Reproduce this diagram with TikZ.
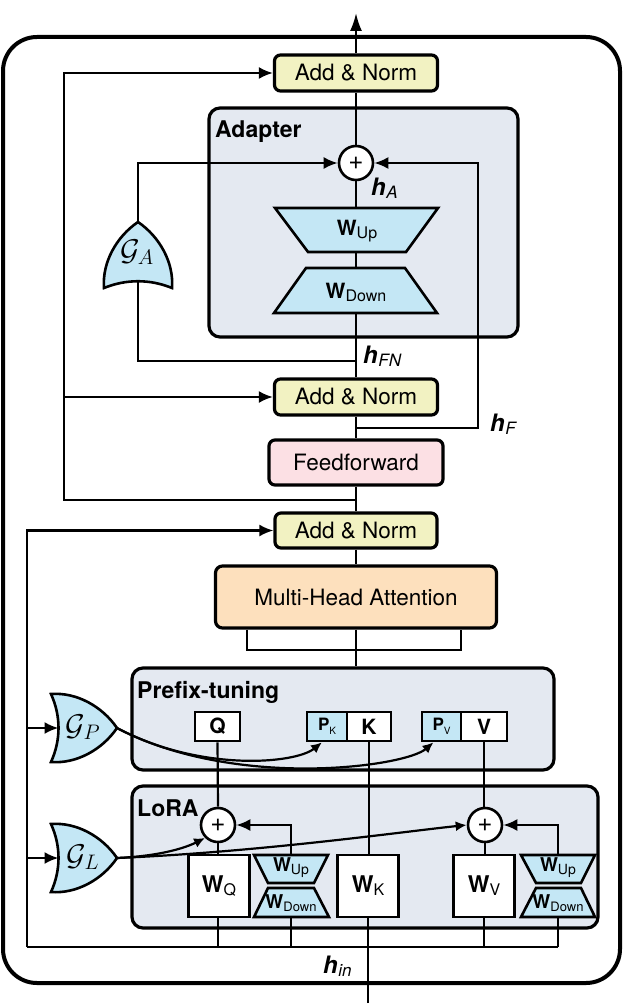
\RequirePackage{fix-cm}
\documentclass[tikz,border=0pt]{standalone}
\usepackage{fontspec}
\setmainfont{TeX Gyre Heros}
\usetikzlibrary{arrows.meta,calc}
\definecolor{annorm}{HTML}{F2F2C2}
\definecolor{ffpink}{HTML}{FCE0E4}
\definecolor{mhaor}{HTML}{FDE0BD}
\definecolor{secgray}{HTML}{E4E9F1}
\definecolor{ltblue}{HTML}{C4E7F5}
\newcommand{\hv}[1]{{\fontsize{24}{24}\selectfont\bfseries\itshape h}\kern0.5pt\raisebox{-0.3em}{\fontsize{17}{17}\selectfont\itshape #1}}
\newcommand{\wv}[3]{{\fontsize{#2}{#2}\selectfont\bfseries W}\raisebox{-0.3em}{\fontsize{#3}{#3}\selectfont #1}}
\newcommand{\pv}[1]{{\fontsize{17}{17}\selectfont\bfseries P}\raisebox{-0.4em}{\fontsize{10}{10}\selectfont #1}}
\begin{document}
\begin{tikzpicture}[x=1pt,y=-1pt,
  conn/.style={line width=2.2pt},
  arr/.style={conn,-{Latex[length=14pt,width=12pt]}},
  arrs/.style={conn,-{Latex[length=11pt,width=10pt]}},
  anbox/.style={draw,line width=3.2pt,rounded corners=6pt,fill=annorm,inner sep=0pt,font=\fontsize{22.5}{26}\selectfont},
  ffbox/.style={draw,line width=3.2pt,rounded corners=6pt,fill=ffpink,inner sep=0pt,font=\fontsize{22.5}{26}\selectfont},
  mhabox/.style={draw,line width=3.2pt,rounded corners=7pt,fill=mhaor,inner sep=0pt,font=\fontsize{22.5}{26}\selectfont},
  secbox/.style={draw,line width=3.2pt,rounded corners=11pt,fill=secgray,inner sep=0pt},
  seclabel/.style={anchor=west,inner sep=0pt,font=\fontsize{23}{26}\selectfont\bfseries},
  qbox/.style={draw,line width=2.6pt,fill=white,inner sep=0pt,minimum height=29pt,font=\fontsize{21}{24}\selectfont\bfseries},
  pbox/.style={draw,line width=2.6pt,fill=ltblue,inner sep=0pt,minimum height=29pt},
  wbox/.style={draw,line width=2.6pt,fill=white,inner sep=0pt,minimum width=61pt,minimum height=62pt},
  trap/.style={draw,line width=2.6pt,fill=ltblue},
  plusnode/.style={circle,draw,line width=2.6pt,fill=white,minimum size=34pt,inner sep=0pt,font=\fontsize{26}{26}\selectfont},
  gatestyle/.style={draw,line width=2.6pt,fill=ltblue},
  hlabel/.style={anchor=west,inner sep=0pt},
  gatelabel/.style={inner sep=0pt,font=\fontsize{30}{30}\selectfont},
  gateR/.pic={
    \draw[gatestyle] (-33,-34) .. controls (-8,-36) and (18,-22) .. (33,0)
      .. controls (18,22) and (-8,36) .. (-33,34)
      .. controls (-23,12) and (-23,-12) .. (-33,-34) -- cycle;
    \coordinate (-tip) at (33,0);
    \coordinate (-back) at (-25.5,0);
  },
  gateU/.pic={
    \draw[gatestyle] (-34,33) .. controls (-36,8) and (-22,-18) .. (0,-33)
      .. controls (22,-18) and (36,8) .. (34,33)
      .. controls (12,24) and (-12,24) .. (-34,33) -- cycle;
    \coordinate (-tip) at (0,-33);
    \coordinate (-bot) at (0,26.5);
  }
]
\useasboundingbox (0,0) rectangle (623,1008);
% outer frame
\node[draw,line width=4pt,rounded corners=34pt,minimum width=617pt,minimum height=946pt,inner sep=0pt] (outer) at (311.5,510) {};
% section boxes
\node[secbox,minimum width=309pt,minimum height=229pt] (adapter) at (363.5,222.5) {};
\node[seclabel] (adlab) at (215,132) {Adapter};
\node[secbox,minimum width=422pt,minimum height=102pt] (prefix) at (343,719) {};
\node[seclabel] (prelab) at (137,692) {Prefix-tuning};
\node[secbox,minimum width=466pt,minimum height=142pt] (lora) at (365,857) {};
\node[seclabel] (loralab) at (137,808) {LoRA};

% main column
\node[anbox,minimum width=163pt,minimum height=36pt] (an3) at (356,73) {Add \& Norm};
\node[plusnode] (pA) at (356,163) {+};
\draw[trap] (275,208) -- (438,208) -- (406,252) -- (308,252) -- cycle;
\node[inner sep=0pt] (wupA) at (357,231) {\wv{Up}{21}{16}};
\coordinate (wupAt) at (356,208);
\coordinate (wupAb) at (356,252);
\draw[trap] (306,268) -- (405,268) -- (437,313) -- (274,313) -- cycle;
\node[inner sep=0pt] (wdnA) at (356,292) {\wv{Down}{21}{16}};
\coordinate (wdnAt) at (356,268);
\coordinate (wdnAb) at (356,313);
\node[anbox,minimum width=163pt,minimum height=36pt] (an2) at (356,397) {Add \& Norm};
\node[ffbox,minimum width=174pt,minimum height=45pt] (ff) at (356,462.5) {Feedforward};
\node[anbox,minimum width=162pt,minimum height=35pt] (an1) at (356,530.5) {Add \& Norm};
\node[mhabox,minimum width=281pt,minimum height=62pt] (mha) at (356,597) {Multi-Head Attention};

% gates
\pic (gA) at (138,255) {gateU};
\node[gatelabel] (gAl) at (137,252) {$\mathcal{G}_A$};
\pic (gP) at (84,728) {gateR};
\node[gatelabel] (gPl) at (83,727) {$\mathcal{G}_P$};
\pic (gL) at (84,858) {gateR};
\node[gatelabel] (gLl) at (83,857) {$\mathcal{G}_L$};

% prefix boxes
\node[qbox,minimum width=45pt] (q) at (217.5,726.5) {Q};
\node[pbox,minimum width=40pt] (pk) at (327,726.5) {\pv{K}};
\node[qbox,minimum width=44pt] (k) at (369,726.5) {K};
\node[pbox,minimum width=39pt] (pvb) at (441.5,726.5) {\pv{V}};
\node[qbox,minimum width=46pt] (v) at (484,726.5) {V};

% LoRA parts
\node[plusnode] (plL) at (218,825) {+};
\node[plusnode] (plR) at (485,825) {+};
\node[wbox] (wq) at (219,886) {\wv{Q}{23}{16}};
\node[wbox] (wk) at (368,886) {\wv{K}{23}{16}};
\node[wbox] (wvv) at (484,886) {\wv{V}{23}{16}};
\draw[trap] (254,855) -- (328,855) -- (314,883) -- (268,883) -- cycle;
\node[inner sep=0pt] (wupL) at (291,868) {\wv{Up}{19}{14}};
\draw[trap] (268,888) -- (314,888) -- (329,917) -- (254,917) -- cycle;
\node[inner sep=0pt] (wdnL) at (291,903) {\wv{Down}{19}{13}};
\draw[trap] (521,855) -- (595,855) -- (581,883) -- (536,883) -- cycle;
\node[inner sep=0pt] (wupR) at (558,868) {\wv{Up}{19}{14}};
\draw[trap] (536,888) -- (581,888) -- (595,917) -- (521,917) -- cycle;
\node[inner sep=0pt] (wdnR) at (558,903) {\wv{Down}{19}{13}};
\coordinate (wupLt) at (291,855);
\coordinate (wdnLb) at (291,917);
\coordinate (wupRt) at (558,855);
\coordinate (wdnRb) at (558,917);

% labels
\node[hlabel] (hA) at (371,188) {\hv{A}};
\node[hlabel] (hFN) at (363,356) {\hv{FN}};
\node[hlabel] (hF) at (490,424) {\hv{F}};
\node[hlabel] (hin) at (323,966) {\hv{in}};

% coordinates
\coordinate (top) at (356,13);
\coordinate (jFN) at (356,361);
\coordinate (jF) at (356,428);
\coordinate (jS) at (356,500);
\coordinate (lx) at (64,500);
\coordinate (lm) at (64,397);
\coordinate (bus0) at (27,947);
\coordinate (bus1) at (558,947);
\coordinate (inp) at (368,1003);

% main line
\draw[conn,-{Latex[length=18pt,width=12pt]}] (an3.north) -- (top);
\draw[conn] (pA.north) -- (an3.south);
\draw[conn] (pA.south) -- (wupAt);
\draw[conn] (wupAb) -- (wdnAt);
\draw[conn] (wdnAb) -- (an2.north);
\draw[conn] (an2.south) -- (ff.north);
\draw[conn] (ff.south) -- (an1.north);
\draw[conn] (an1.south) -- (mha.north);
\draw[conn] (mha.south) -- (mha.south |- prefix.north);
\draw[conn] ($(mha.south)+(-109,0)$) -- ++(0,20) -- ++(214,0) -- ++(0,-20);

% adapter routing
\draw[arr] (gA-tip) |- (pA.west);
\draw[conn] (gA-bot) |- (jFN);
\draw[arr] (jF) -- (478,428) |- (pA.east);

% skip connections
\draw[arr] (jS) -- (lx) |- (an3.west);
\draw[arr] (lm) -- (an2.west);
\draw[arr] (bus0) |- (an1.west);
\draw[conn] (bus0) -- (bus1);
\draw[arr] (27,728) -- (gP-back);
\draw[arr] (27,858) -- (gL-back);

% prefix curves
\draw[arrs] (gP-tip) .. controls (200,772) and (295,764) .. ([xshift=-5pt]pk.south);
\draw[arrs] (gP-tip) .. controls (235,790) and (405,767) .. ([xshift=-8pt]pvb.south);

% LoRA connections
\draw[conn] (q.south) -- (plL.north);
\draw[conn] (plL.south) -- (plL.south |- wq.north);
\draw[conn] (wq.south -| plL) -- (plL |- bus0);
\draw[arr] (wupLt) |- (plL.east);
\draw[conn] (wdnLb) -- (wdnLb |- bus0);
\draw[conn] (k.south) -- (k.south |- wk.north);
\draw[conn] (inp) -- (wk.south);
\draw[conn] (v.south) -- (plR.north -| v.south);
\draw[conn] (plR.south) -- (plR.south |- wvv.north);
\draw[conn] (wvv.south) -- (wvv.south |- bus0);
\draw[arr] (wupRt) |- (plR.east);
\draw[conn] (wdnRb) -- (bus1);
\draw[arrs] (gL-tip) .. controls (160,856) and (185,848) .. (plL.south west);
\draw[arrs] (gL-tip) .. controls (260,852) and (400,832) .. (plR.west);
\end{tikzpicture}
\end{document}
